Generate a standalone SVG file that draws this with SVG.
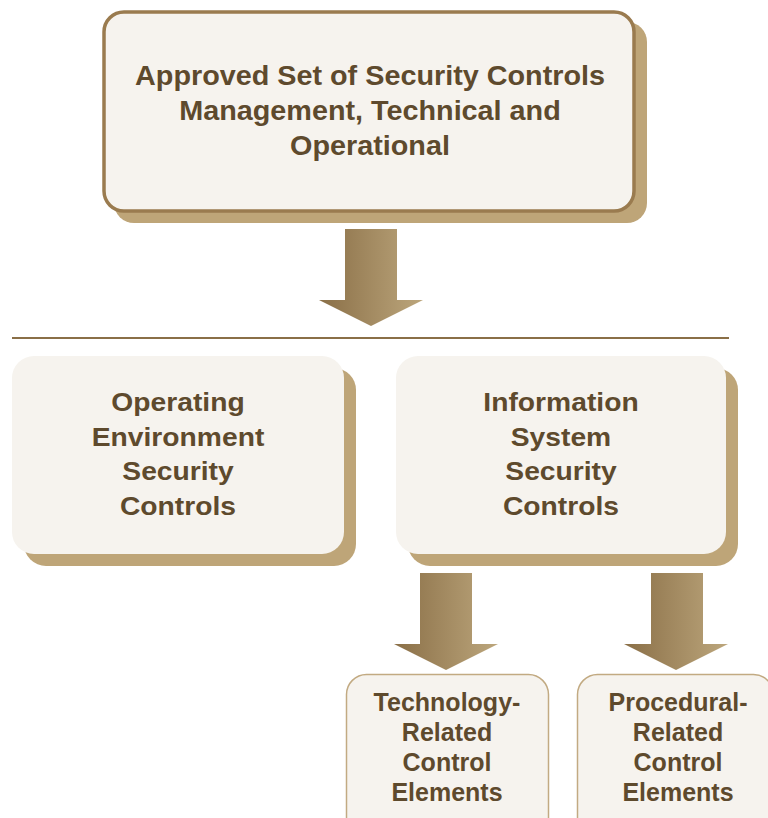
<svg xmlns="http://www.w3.org/2000/svg" width="768" height="818" viewBox="0 0 768 818">
  <style>
    .box { fill: #f6f3ee; }
    .shadow { fill: #bea578; }
    .label { font-family: "Liberation Sans", Arial, sans-serif; font-weight: bold; fill: #5e4a2d; text-anchor: middle; }
    .top { font-size: 27px; }
    .mid { font-size: 25px; }
    .small { font-size: 25px; }
    .arrow { fill: url(#arrowGrad); }
    .rule { stroke: #8a6f47; stroke-width: 2; }
  </style>
  <defs>
    <linearGradient id="arrowGrad" x1="0" y1="0" x2="1" y2="0">
      <stop offset="0" stop-color="#8a6f47"/>
      <stop offset="1" stop-color="#bca67c"/>
    </linearGradient>
  </defs>

  <rect width="768" height="818" fill="#ffffff"/>

  <!-- top node: approved controls -->
  <g id="approved-controls">
    <rect class="shadow" x="114" y="22" width="533" height="201" rx="20"/>
    <rect class="box" x="104" y="12" width="530" height="199" rx="20" stroke="#9a7b4f" stroke-width="3.5"/>
    <g transform="translate(370,0) scale(1.066,1)">
      <text class="label top" x="0" y="85">Approved Set of Security Controls</text>
      <text class="label top" x="0" y="120">Management, Technical and</text>
      <text class="label top" x="0" y="155">Operational</text>
    </g>
  </g>

  <!-- connectors -->
  <g id="connectors">
    <line class="rule" x1="12" y1="338" x2="729" y2="338"/>
    <polygon class="arrow" points="345,229 397,229 397,300 423,300 371,326 319,300 345,300"/>
    <polygon class="arrow" points="420,573 472,573 472,644 498,644 446,670 394,644 420,644"/>
    <polygon class="arrow" points="651,573 703,573 703,644 728,644 676,670 624,644 651,644"/>
  </g>

  <!-- operating environment controls -->
  <g id="operating-environment">
    <rect class="shadow" x="24" y="368" width="332" height="198" rx="22"/>
    <rect class="box" x="12" y="356" width="332" height="198" rx="22"/>
    <g transform="translate(178,0) scale(1.13,1)">
      <text class="label mid" x="0" y="411">Operating</text>
      <text class="label mid" x="0" y="446">Environment</text>
      <text class="label mid" x="0" y="480">Security</text>
      <text class="label mid" x="0" y="515">Controls</text>
    </g>
  </g>

  <!-- information system controls -->
  <g id="information-system">
    <rect class="shadow" x="408" y="368" width="330" height="198" rx="22"/>
    <rect class="box" x="396" y="356" width="330" height="198" rx="22"/>
    <g transform="translate(561,0) scale(1.13,1)">
      <text class="label mid" x="0" y="411">Information</text>
      <text class="label mid" x="0" y="446">System</text>
      <text class="label mid" x="0" y="480">Security</text>
      <text class="label mid" x="0" y="515">Controls</text>
    </g>
  </g>

  <!-- technology-related elements -->
  <g id="technology-related">
    <rect class="box" x="346.5" y="674.5" width="202" height="170" rx="20" stroke="#c2aa82" stroke-width="1.5"/>
    <text class="label small" x="447" y="711">Technology-</text>
    <text class="label small" x="447" y="741">Related</text>
    <text class="label small" x="447" y="771">Control</text>
    <text class="label small" x="447" y="801">Elements</text>
  </g>

  <!-- procedural-related elements -->
  <g id="procedural-related">
    <rect class="box" x="577.5" y="674.5" width="196" height="170" rx="20" stroke="#c2aa82" stroke-width="1.5"/>
    <text class="label small" x="678" y="711">Procedural-</text>
    <text class="label small" x="678" y="741">Related</text>
    <text class="label small" x="678" y="771">Control</text>
    <text class="label small" x="678" y="801">Elements</text>
  </g>
</svg>
